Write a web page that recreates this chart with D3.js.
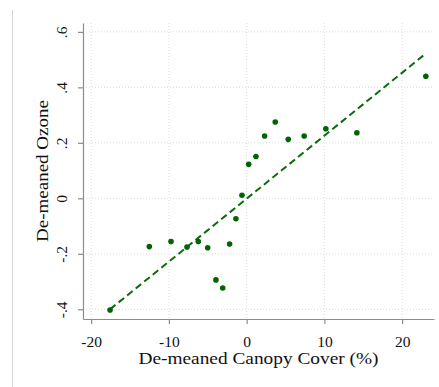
<!DOCTYPE html>
<html lang="en">
<head>
<meta charset="UTF-8">
<title>scatter</title>
<script src="https://cdn.jsdelivr.net/npm/d3@7/dist/d3.min.js"></script>
<style>
  body { margin: 0; background: #fff; }
  text { font-family: "Liberation Serif", "DejaVu Serif", serif; fill: #111; }
</style>
</head>
<body>
<svg width="439" height="387" id="mainsvg"></svg>
<script>
  // binned points
  const canopy = [-17.57, -12.52, -9.73, -7.67, -6.22, -5.01, -3.95, -3.08, -2.19, -1.38, -0.6,
                  0.26, 1.2, 2.31, 3.68, 5.35, 7.4, 10.19, 14.18, 23.05];
  const ozone = [-0.4025, -0.174, -0.156, -0.1755, -0.156, -0.178, -0.294, -0.323, -0.165, -0.0735, 0.011,
                 0.1225, 0.151, 0.2245, 0.275, 0.2126, 0.2245, 0.251, 0.2364, 0.44];
  // fitted line ends
  const fitX = [-17.57, 23.05];
  const fitY = [-0.40, 0.522];
  const xTicks = [-20, -10, 0, 10, 20];
  const xTickLabels = ['-20', '-10', '0', '10', '20'];
  const yTicks = [-0.4, -0.2, 0, 0.2, 0.4, 0.6];
  const yTickLabels = ['-.4', '-.2', '0', '.2', '.4', '.6'];

  const svg = d3.select('#mainsvg');
  const margin = { top: 23, right: 5, bottom: 68, left: 83 };
  const width = +svg.attr('width'), height = +svg.attr('height');
  const innerWidth = width - margin.left - margin.right;
  const innerHeight = height - margin.top - margin.bottom;

  // outer graph border on the left
  svg.append('line').attr('x1', 12.5).attr('x2', 12.5).attr('y1', 10).attr('y2', height)
    .attr('stroke', '#d4d4d4').attr('stroke-width', 1);

  const g = svg.append('g').attr('transform', `translate(${margin.left}, ${margin.top})`);

  const x = d3.scaleLinear().domain([-21.05, 24.1]).range([0, innerWidth]);
  const y = d3.scaleLinear().domain([-0.435, 0.632]).range([innerHeight, 0]);

  // grid
  g.selectAll('.hgrid').data(yTicks).join('line').attr('class', 'hgrid')
    .attr('x1', 0).attr('x2', innerWidth)
    .attr('y1', d => y(d)).attr('y2', d => y(d))
    .attr('stroke', '#dcdcdc').attr('stroke-dasharray', '1,2');
  g.selectAll('.vgrid').data(xTicks).join('line').attr('class', 'vgrid')
    .attr('y1', 0).attr('y2', innerHeight)
    .attr('x1', d => x(d)).attr('x2', d => x(d))
    .attr('stroke', '#dcdcdc').attr('stroke-dasharray', '1,2');

  // axes
  const xAxis = d3.axisBottom(x).tickValues(xTicks).tickSize(5).tickPadding(12).tickSizeOuter(0)
    .tickFormat((d, i) => xTickLabels[i]);
  const yAxis = d3.axisLeft(y).tickValues(yTicks).tickSize(5).tickSizeOuter(0)
    .tickFormat((d, i) => yTickLabels[i]);

  const gx = g.append('g').attr('transform', `translate(0, ${innerHeight})`).call(xAxis);
  gx.selectAll('text').attr('font-size', 15.5).attr('fill', '#111')
    .style('font-family', '"Liberation Serif", serif');

  const gy = g.append('g').call(yAxis);
  gy.selectAll('text').attr('font-size', 15.5).attr('fill', '#111')
    .style('font-family', '"Liberation Serif", serif')
    .attr('text-anchor', 'middle').attr('dy', 0)
    .attr('transform', 'translate(-16,0) rotate(-90)')
    .attr('x', 0).attr('y', 0);
  [gx, gy].forEach(a => {
    a.select('.domain').attr('stroke', '#8c8c8c').attr('stroke-width', 1.2);
    a.selectAll('.tick line').attr('stroke', '#8c8c8c').attr('stroke-width', 1.2);
  });

  // fit line
  const fit = fitX.map((d, i) => [d, fitY[i]]);
  g.append('path').datum(fit)
    .attr('d', d3.line().x(d => x(d[0])).y(d => y(d[1])))
    .attr('fill', 'none').attr('stroke', '#0a6b0a').attr('stroke-width', 2)
    .attr('stroke-dasharray', '7,4');

  // points
  g.selectAll('.pt').data(canopy).join('circle').attr('class', 'pt')
    .attr('cx', d => x(d)).attr('cy', (d, i) => y(ozone[i])).attr('r', 2.8)
    .attr('fill', '#006400');

  // titles
  svg.append('text').attr('x', margin.left + innerWidth / 2).attr('y', 364)
    .attr('text-anchor', 'middle').attr('font-size', 17)
    .attr('textLength', 240).attr('lengthAdjust', 'spacingAndGlyphs')
    .text('De-meaned Canopy Cover (%)');
  svg.append('text').attr('transform', `translate(48, ${margin.top + innerHeight / 2}) rotate(-90)`)
    .attr('text-anchor', 'middle').attr('font-size', 17)
    .attr('textLength', 142).attr('lengthAdjust', 'spacingAndGlyphs')
    .text('De-meaned Ozone');
</script>
</body>
</html>
